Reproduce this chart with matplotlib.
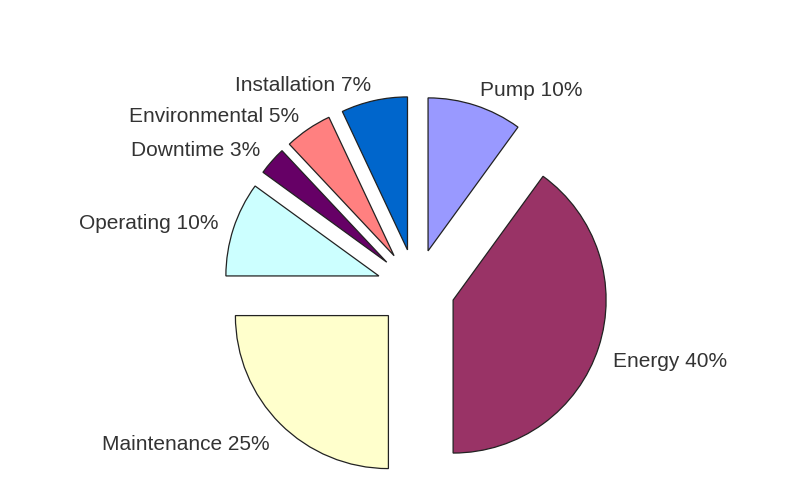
import math
import matplotlib
matplotlib.use("Agg")
import matplotlib.pyplot as plt

categories = ["Pump", "Energy", "Maintenance", "Operating", "Downtime",
              "Environmental", "Installation"]
shares = [10, 40, 25, 10, 3, 5, 7]
colors = ["#9999FF", "#993366", "#FFFFCC", "#CCFFFF", "#660066",
          "#FF8080", "#0066CC"]
labels = [f"{c} {v}%" for c, v in zip(categories, shares)]

plt.rcParams['font.family'] = ['Liberation Sans', 'DejaVu Sans']

RADIUS = 153
fig = plt.figure(figsize=(8.04, 5.04), dpi=100)
ax = fig.add_axes([0, 0, 1, 1])

# explode is in data units (not scaled by radius)
wedges, texts = ax.pie(
    shares, labels=labels, colors=colors, startangle=90, counterclock=False,
    explode=[0.255 * RADIUS] * len(shares), radius=RADIUS, center=(416, 216),
    labeldistance=1.1, frame=True,
    wedgeprops=dict(edgecolor="#222222", linewidth=0.9),
    textprops=dict(fontsize=15, color="#333333"),
)

# align labels away from the pie (side depends on the wedge's mid angle)
for w, t in zip(wedges, texts):
    mid = math.radians((w.theta1 + w.theta2) / 2)
    t.set_ha("left" if math.cos(mid) > 0 else "right")
    t.set_va("top" if math.sin(mid) < 0 else "center")

ax.set_xlim(0, 804)
ax.set_ylim(0, 504)
ax.set_aspect("equal")
ax.axis("off")

fig.savefig("out.png", dpi=100, facecolor="white")
